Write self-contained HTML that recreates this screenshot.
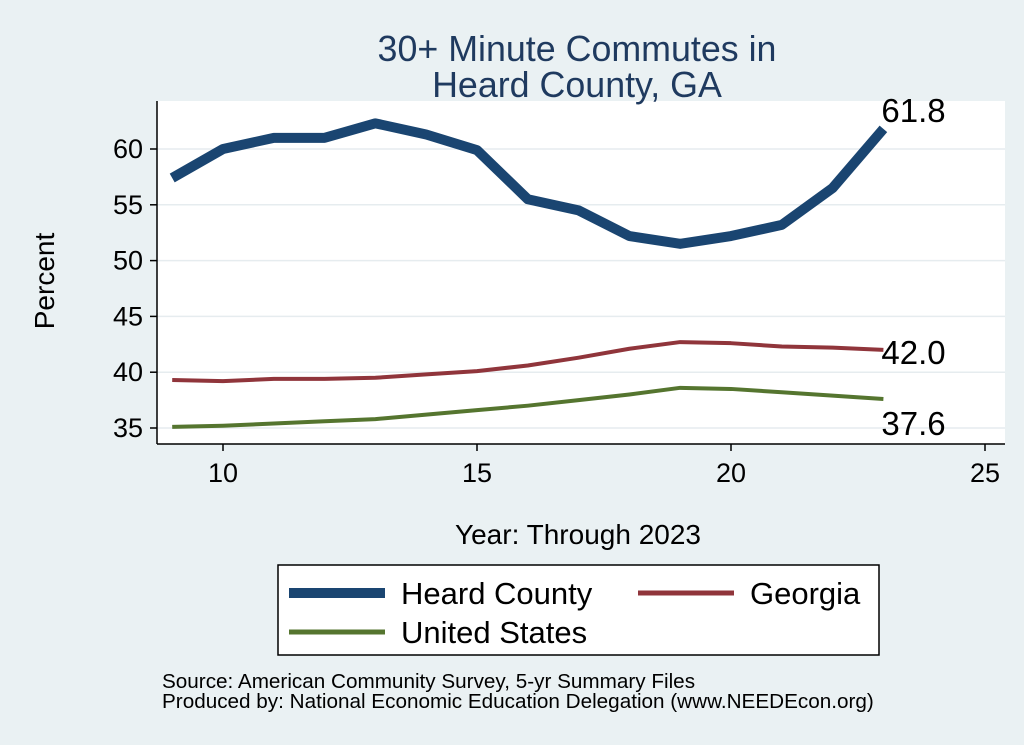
<!DOCTYPE html>
<html><head><meta charset="utf-8"><style>
body{margin:0;background:#eaf1f3;}
svg{display:block;font-family:"Liberation Sans",sans-serif;}
</style></head><body>
<svg id="chart" width="1024" height="745" viewBox="0 0 1024 745">
<rect x="0" y="0" width="1024" height="745" fill="#eaf1f3"/>
<rect x="157" y="101" width="848" height="343" fill="#ffffff"/>
<g id="grid"></g><g id="axes"></g><g id="series"></g><g id="labels"></g>
<text x="577" y="61" text-anchor="middle" font-size="35.8" fill="#1f3a5f">30+ Minute Commutes in</text>
<text x="577" y="97" text-anchor="middle" font-size="35.8" fill="#1f3a5f">Heard County, GA</text>
<text x="54" y="281" text-anchor="middle" font-size="28" transform="rotate(-90 54 281)">Percent</text>
<text x="578" y="544" text-anchor="middle" font-size="28">Year: Through 2023</text>
<g>
<rect x="278" y="565" width="601" height="90" fill="#fff" stroke="#000" stroke-width="1.5"/>
<line x1="289" y1="593" x2="385" y2="593" stroke="#1a4571" stroke-width="10"/>
<text x="401" y="604" font-size="31">Heard County</text>
<line x1="638" y1="593" x2="734" y2="593" stroke="#90353b" stroke-width="5"/>
<text x="750" y="604" font-size="31">Georgia</text>
<line x1="289" y1="632" x2="385" y2="632" stroke="#55752f" stroke-width="5"/>
<text x="401" y="643" font-size="31">United States</text>
</g>
<text x="162" y="688" font-size="20.7">Source: American Community Survey, 5-yr Summary Files</text>
<text x="162" y="708" font-size="20.7">Produced by: National Economic Education Delegation (www.NEEDEcon.org)</text>
</svg>
<script>
const years=[9,10,11,12,13,14,15,16,17,18,19,20,21,22,23];
const heard=[57.4,60.0,61.0,61.0,62.3,61.3,59.9,55.5,54.5,52.2,51.5,52.2,53.2,56.5,61.8];
const georgia=[39.3,39.2,39.4,39.4,39.5,39.8,40.1,40.6,41.3,42.1,42.7,42.6,42.3,42.2,42.0];
const us=[35.1,35.2,35.4,35.6,35.8,36.2,36.6,37.0,37.5,38.0,38.6,38.5,38.2,37.9,37.6];
const yTicks=[35,40,45,50,55,60];
const xTicks=[10,15,20,25];
const NS="http://www.w3.org/2000/svg";
const X=v=>223+(v-10)*50.8;
const Y=v=>428-(v-35)*11.16;
function mk(tag,attrs,parent){const e=document.createElementNS(NS,tag);for(const k in attrs)e.setAttribute(k,attrs[k]);document.getElementById(parent).appendChild(e);return e;}
yTicks.forEach(t=>{
 const g=mk('line',{x1:157,x2:1005,y1:Y(t),y2:Y(t),stroke:'#e6ecef','stroke-width':1.5},'grid');
 
 
 const tk=mk('line',{x1:150,x2:157,y1:Y(t),y2:Y(t),stroke:'#000','stroke-width':1.5},'axes');
 
 
 const tx=mk('text',{x:143,y:Y(t)+9,'text-anchor':'end','font-size':27},'axes');
 tx.textContent=t;
 
 
});
xTicks.forEach(t=>{
 const tk=mk('line',{x1:X(t),x2:X(t),y1:444,y2:451,stroke:'#000','stroke-width':1.5},'axes');
 
 
 const tx=mk('text',{x:X(t),y:482,'text-anchor':'middle','font-size':27},'axes');
 tx.textContent=t;
 
 
});
const ya=mk('line',{x1:157,x2:157,y1:101,y2:444,stroke:'#000','stroke-width':1.5},'axes');


const xa=mk('line',{x1:157,x2:1005,y1:444,y2:444,stroke:'#000','stroke-width':1.5},'axes');


function line(vals,color,w,name){
 const p=mk('polyline',{points:vals.map((v,i)=>X(years[i])+','+Y(v)).join(' '),fill:'none',stroke:color,'stroke-width':w,'stroke-linejoin':'round'},'series');
 
 
}
line(us,'#55752f',4,'line-united-states');
line(georgia,'#90353b',4,'line-georgia');
line(heard,'#1a4571',10,'line-heard-county');
function lab(vals,dy,name){
 const v=vals[vals.length-1];
 const t=mk('text',{x:X(years[years.length-1])+-2,y:Y(v)+dy,'font-size':33},'labels');
 t.textContent=v.toFixed(1);
 
 
}
lab(heard,-7,'label-heard-last');
lab(georgia,14,'label-georgia-last');
lab(us,36,'label-us-last');
</script>
</body></html>
